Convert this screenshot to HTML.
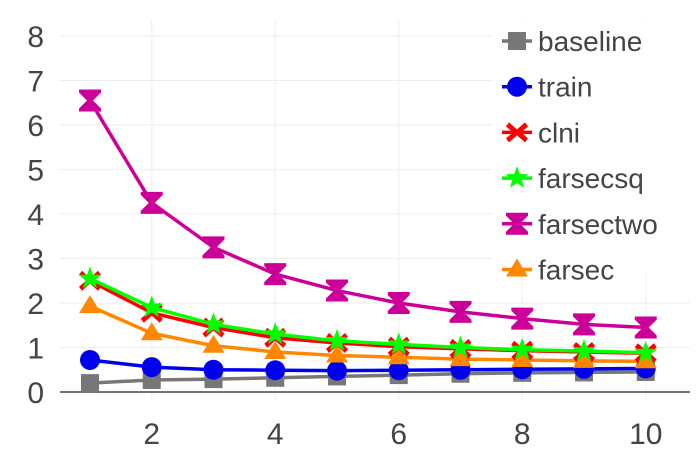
<!DOCTYPE html>
<html><head><meta charset="utf-8"><style>
body{margin:0;background:#fff;width:700px;height:450px;overflow:hidden}
svg{display:block;font-family:"Liberation Sans","DejaVu Sans",sans-serif}
</style></head><body>
<svg id="chart" width="700" height="450"></svg>
<script>
const xs=[1,2,3,4,5,6,7,8,9,10];
const names=["baseline","train","clni","farsecsq","farsectwo","farsec"];
const colors=["#777777","#0000ee","#ff0000","#00ff00","#cc0099","#ff8800"];
const baseline=[0.2,0.27,0.29,0.32,0.35,0.38,0.41,0.43,0.44,0.45];
const train=[0.72,0.56,0.5,0.49,0.48,0.49,0.5,0.51,0.52,0.53];
const clni=[2.5,1.78,1.45,1.22,1.1,1.02,0.97,0.93,0.9,0.87];
const farsecsq=[2.55,1.9,1.52,1.3,1.15,1.07,1.0,0.95,0.92,0.88];
const farsectwo=[6.55,4.25,3.25,2.65,2.28,2.0,1.8,1.65,1.52,1.45];
const farsec=[1.93,1.32,1.04,0.9,0.82,0.78,0.74,0.72,0.7,0.69];
const yTicks=[0,1,2,3,4,5,6,7,8];
const xTicks=[2,4,6,8,10];
const series=[baseline,train,clni,farsecsq,farsectwo,farsec];
const NS="http://www.w3.org/2000/svg";
const svg=document.getElementById("chart");
const X=v=>90+(v-1)*61.75;
const Y=v=>392-v*44.5;
function mk(t,a,p){const e=document.createElementNS(NS,t);for(const k in a)e.setAttribute(k,a[k]);(p||svg).appendChild(e);return e;}
const grid=mk("g",{});


yTicks.forEach(t=>{
 if(t>0){mk("line",{x1:60,x2:690,y1:Y(t),y2:Y(t),stroke:"#eee","stroke-width":1},grid);}
 const l=mk("text",{x:44,y:Y(t)+11,"text-anchor":"end","font-size":30,fill:"#444"});
 l.textContent=t;
 
 
});
xTicks.forEach(t=>{
 mk("line",{x1:X(t),x2:X(t),y1:20,y2:400,stroke:"#eee","stroke-width":1},grid);
 const l=mk("text",{x:X(t),y:444,"text-anchor":"middle","font-size":30,fill:"#444"});
 l.textContent=t;
 
 
});
const ax=mk("line",{x1:60,x2:690,y1:392,y2:392,stroke:"#444","stroke-width":1.5});


function marker(i,x,y,p){
 const c=colors[i];
 if(i==0)return mk("rect",{x:x-9,y:y-9,width:18,height:18,fill:c},p);
 if(i==1)return mk("circle",{cx:x,cy:y,r:10,fill:c},p);
 if(i==2)return mk("path",{d:`M${x-8} ${y-10}L${x} ${y-3}L${x+8} ${y-10}L${x+11} ${y-6}L${x+4} ${y}L${x+11} ${y+6}L${x+8} ${y+10}L${x} ${y+3}L${x-8} ${y+10}L${x-11} ${y+6}L${x-4} ${y}L${x-11} ${y-6}Z`,fill:c},p);
 if(i==3){let d="";for(let k=0;k<10;k++){const r=k%2?5:12,a=-Math.PI/2+k*Math.PI/5;d+=(k?"L":"M")+(x+r*Math.cos(a))+" "+(y+r*Math.sin(a));}return mk("path",{d:d+"Z",fill:c},p);}
 if(i==4)return mk("path",{d:`M${x-11} ${y-11}H${x+11}V${y-8}L${x+3} ${y}L${x+11} ${y+8}V${y+11}H${x-11}V${y+8}L${x-3} ${y}L${x-11} ${y-8}Z`,fill:c},p);
 return mk("path",{d:`M${x} ${y-11}L${x+11} ${y+7}H${x-11}Z`,fill:c},p);
}
[0,1,5,2,3,4].forEach(i=>{
 const g=mk("g",{});
 
 
 const pts=xs.map((x,j)=>X(x)+","+Y(series[i][j])).join(" ");
 mk("polyline",{points:pts,fill:"none",stroke:colors[i],"stroke-width":3.5},g);
 xs.forEach((x,j)=>{
  const m=marker(i,X(x),Y(series[i][j]),g);
  
  
 });
});
const lg=mk("g",{});


mk("rect",{x:492,y:22,width:200,height:250,fill:"#fff"},lg);
names.forEach((n,i)=>{
 const y=41+i*45.7;
 const e=mk("g",{},lg);
 
 
 mk("line",{x1:502,x2:532,y1:y,y2:y,stroke:colors[i],"stroke-width":3.5},e);
 marker(i,517,y,e);
 const t=mk("text",{x:538,y:y+10,"font-size":28,fill:"#444"},e);
 t.textContent=n;
});
</script>
</body></html>
